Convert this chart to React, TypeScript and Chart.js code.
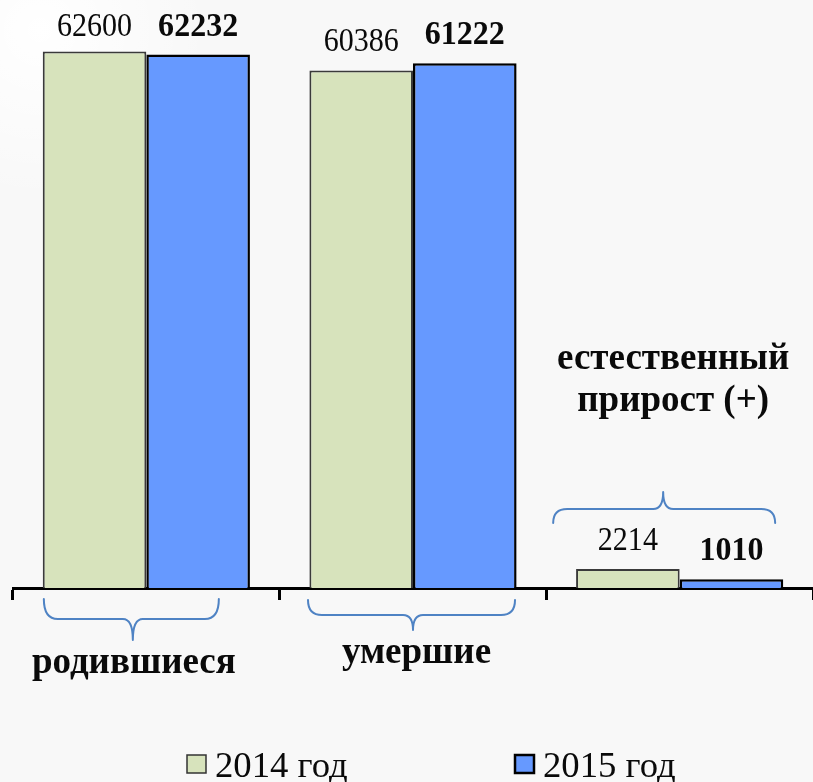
import React, { useEffect, useRef } from "react";
import { Chart, registerables } from "chart.js";

Chart.register(...registerables);

// ---- data ----
const categories: (string | string[])[] = ["родившиеся", "умершие", ["естественный", "прирост (+)"]];
const seriesNames = ["2014 год", "2015 год"];
const values2014 = [62600, 60386, 2214];
const values2015 = [62232, 61222, 1010];
const yMax = 68600;

// ---- styles ----
const COLORS = {
  bg: "#f8f8f8",
  fill2014: "#d7e3bc",
  border2014: "#3a3a3a",
  fill2015: "#6699ff",
  border2015: "#000000",
  brace: "#4f83c4",
  text: "#0a0a0a",
};
const SERIF = "'Liberation Serif', 'Times New Roman', serif";

// annotation layout relative to category centers (px)
const BRACES = [
  { from: -102.5, to: 72.5, tip: -13.5, yEnd: 11, yMid: 31, yTip: 52 },
  { from: -105, to: 102, tip: 0, yEnd: 12, yMid: 27, yTip: 42 },
  { from: -126.5, to: 95.5, tip: -16.5, yEnd: -65, yMid: -79, yTip: -96 },
];
const CAT_LABELS = [
  { dx: -12.5, baselines: [85] },
  { dx: 3.5, baselines: [75] },
  { dx: -6.5, baselines: [-219, -177] },
];

function drawText(ctx: CanvasRenderingContext2D, text: string, x: number, y: number, font: string, sx: number, align: CanvasTextAlign = "center") {
  ctx.save();
  ctx.font = font;
  ctx.translate(x, y);
  ctx.scale(sx, 1);
  ctx.textAlign = align;
  ctx.textBaseline = "alphabetic";
  ctx.fillStyle = COLORS.text;
  ctx.fillText(text, 0, 0);
  ctx.restore();
}

const decorPlugin = {
  id: "decor",
  beforeDraw(chart: any) {
    const { ctx, width, height } = chart;
    ctx.save();
    ctx.fillStyle = COLORS.bg;
    ctx.fillRect(0, 0, width, height);
    const g = ctx.createRadialGradient(40, 30, 0, 40, 30, 170);
    g.addColorStop(0, "rgba(255,255,255,1)");
    g.addColorStop(1, "rgba(255,255,255,0)");
    ctx.fillStyle = g;
    ctx.fillRect(0, 0, 260, 220);
    ctx.restore();
  },
  afterDraw(chart: any) {
    const { ctx } = chart;
    const xs = chart.scales.x;
    const base = chart.chartArea.bottom;

    // data labels
    const metas = [chart.getDatasetMeta(0), chart.getDatasetMeta(1)];
    metas.forEach((meta: any, di: number) => {
      const vals = di === 0 ? values2014 : values2015;
      meta.data.forEach((bar: any, i: number) => {
        const font = di === 0 ? `33px ${SERIF}` : `bold 33px ${SERIF}`;
        const sx = di === 0 ? 0.91 : 0.97;
        const y = Math.max(bar.y - 19, 36);
        drawText(ctx, String(vals[i]), bar.x, y, font, sx);
      });
    });

    // braces
    ctx.save();
    ctx.strokeStyle = COLORS.brace;
    ctx.lineWidth = 2;
    ctx.lineCap = "round";
    categories.forEach((_, i) => {
      const c = xs.getPixelForValue(i);
      const b = BRACES[i];
      const x1 = c + b.from, x2 = c + b.to, xt = c + b.tip;
      const yE = base + b.yEnd, yM = base + b.yMid, yT = base + b.yTip;
      const r = 14;
      const rt = 10;
      ctx.beginPath();
      ctx.moveTo(x1, yE);
      ctx.quadraticCurveTo(x1, yM, x1 + r, yM);
      ctx.lineTo(xt - rt, yM);
      ctx.quadraticCurveTo(xt, yM, xt, yT);
      ctx.moveTo(xt, yT);
      ctx.quadraticCurveTo(xt, yM, xt + rt, yM);
      ctx.lineTo(x2 - r, yM);
      ctx.quadraticCurveTo(x2, yM, x2, yE);
      ctx.stroke();
    });
    ctx.restore();

    // category labels
    categories.forEach((lab, i) => {
      const lines = Array.isArray(lab) ? lab : [lab];
      const c = xs.getPixelForValue(i) + CAT_LABELS[i].dx;
      lines.forEach((ln, k) => {
        drawText(ctx, ln, c, base + CAT_LABELS[i].baselines[k], `bold 37px ${SERIF}`, 1.0);
      });
    });

    // legend
    const legendItems = [
      { x: 187, fill: COLORS.fill2014, stroke: "#333333", lw: 1.5 },
      { x: 515, fill: COLORS.fill2015, stroke: "#000000", lw: 2.5 },
    ];
    legendItems.forEach((it, i) => {
      ctx.save();
      ctx.fillStyle = it.fill;
      ctx.strokeStyle = it.stroke;
      ctx.lineWidth = it.lw;
      ctx.fillRect(it.x, 755, 19, 18);
      ctx.strokeRect(it.x, 755, 19, 18);
      ctx.restore();
      drawText(ctx, seriesNames[i], it.x + 28, 777, `36px ${SERIF}`, 1.02, "left");
    });
  },
};

export default function App() {
  const ref = useRef<HTMLCanvasElement | null>(null);
  useEffect(() => {
    if (!ref.current) return;
    const chart = new Chart(ref.current, {
      type: "bar",
      data: {
        labels: categories as any,
        datasets: [
          {
            label: seriesNames[0],
            data: values2014,
            backgroundColor: COLORS.fill2014,
            borderColor: COLORS.border2014,
            borderWidth: 2,
            categoryPercentage: 0.777,
            barPercentage: 1,
          },
          {
            label: seriesNames[1],
            data: values2015,
            backgroundColor: COLORS.fill2015,
            borderColor: COLORS.border2015,
            borderWidth: 2.5,
            categoryPercentage: 0.777,
            barPercentage: 1,
          },
        ],
      },
      options: {
        responsive: false,
        animation: false,
        layout: { padding: { left: 13, right: 0, top: 0, bottom: 182 } },
        plugins: { legend: { display: false }, tooltip: { enabled: false } },
        scales: {
          x: {
            display: true,
            offset: true,
            grid: {
              offset: true,
              drawOnChartArea: false,
              drawTicks: true,
              tickLength: 12,
              color: "#000",
              lineWidth: 3,
            },
            border: { display: true, color: "#000", width: 3 },
            ticks: { display: false },
          },
          y: { display: false, min: 0, max: yMax },
        },
      },
      plugins: [decorPlugin],
    });
    return () => chart.destroy();
  }, []);
  return (
    <div style={{ position: "absolute", left: 0, top: 0, width: 813, height: 782 }}>
      <canvas ref={ref} width={813} height={782} style={{ display: "block" }} />
    </div>
  );
}
